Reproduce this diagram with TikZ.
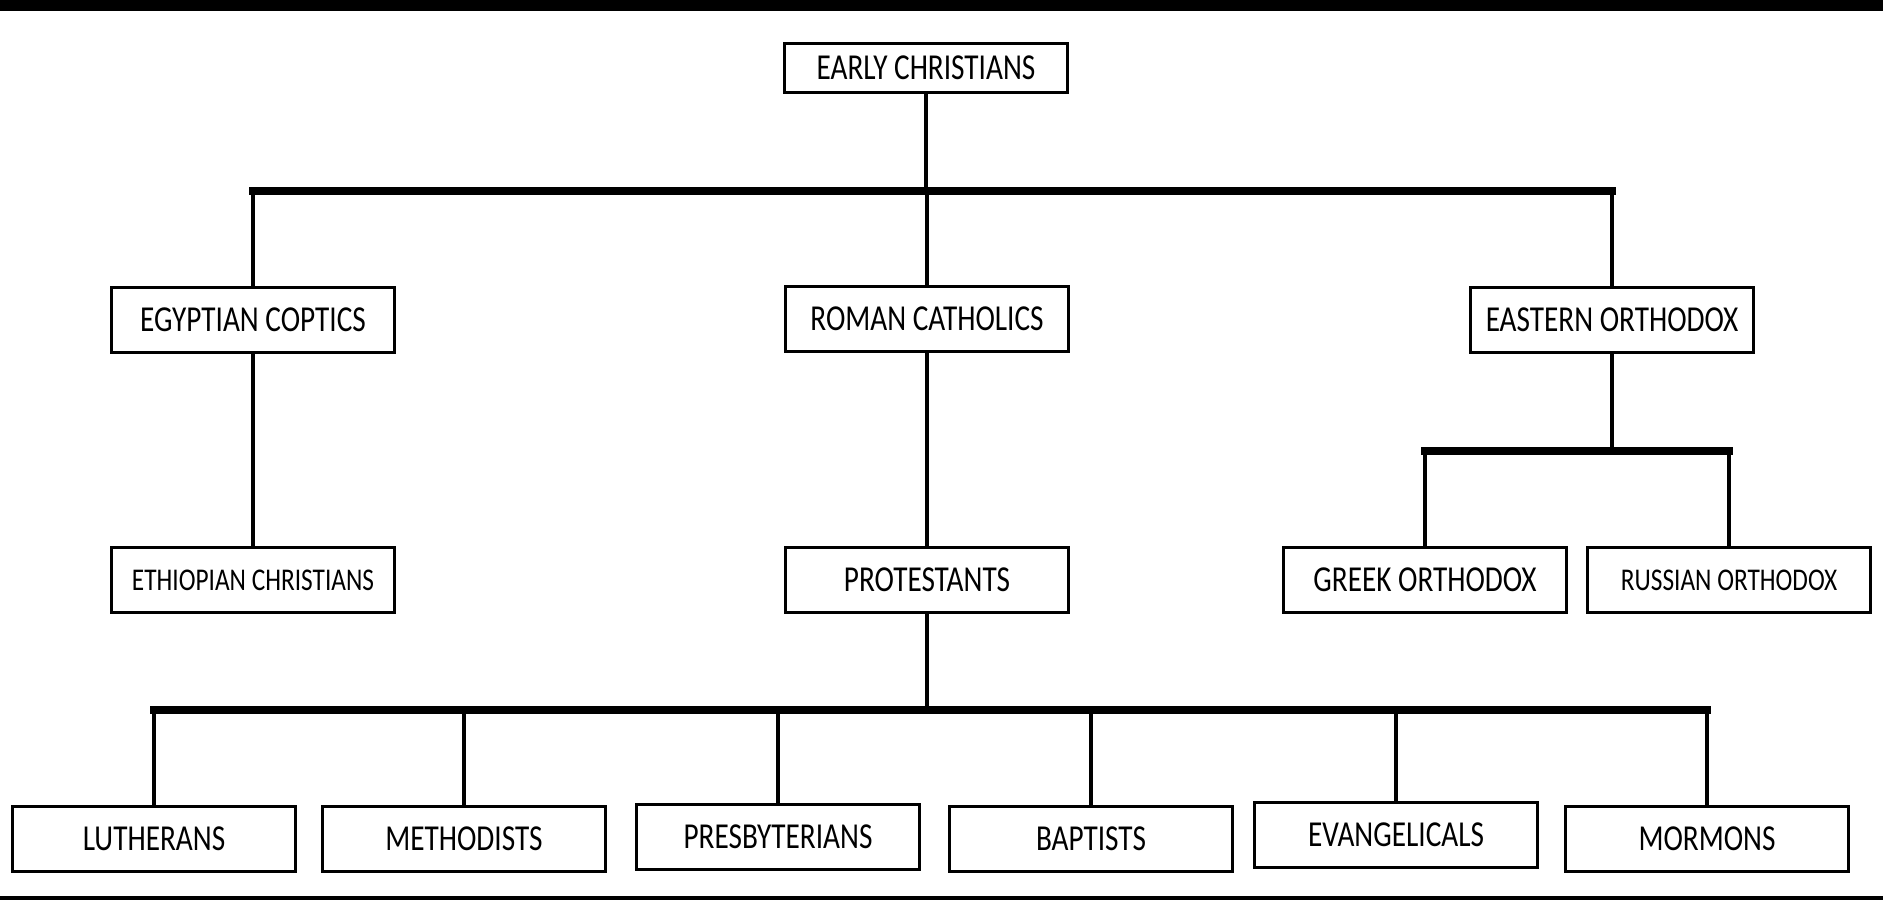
\documentclass[tikz,border=0pt]{standalone}
\usepackage{fontspec}
\setmainfont{Carlito}[FakeStretch=0.8]
\begin{document}
\begin{tikzpicture}[x=0.01cm,y=-0.01cm,
    box/.style={draw, rectangle, line width=0.8pt, fill=white, inner sep=0pt,
        minimum width=2.83cm, minimum height=0.65cm, font=\fontsize{10.4}{12}\selectfont},
    smallbox/.style={box, font=\fontsize{9}{11}\selectfont},
    stem/.style={line width=1.2pt},
    bus/.style={line width=2.2pt, line cap=rect}]
    \fill[white] (0,0) rectangle (1883,900);
    \useasboundingbox (0,0) rectangle (1883,900);
    \fill[black] (0,0) rectangle (1883,11);
    \fill[black] (0,896) rectangle (1883,900);

    \node[box, minimum height=0.49cm] (early) at (926,68) {EARLY CHRISTIANS};

    \node[box] (coptic) at (253,320) {EGYPTIAN COPTICS};
    \node[box] (roman) at (927,319) {ROMAN CATHOLICS};
    \node[box] (eastern) at (1612,320) {EASTERN ORTHODOX};

    \node[smallbox] (ethiop) at (253,580) {ETHIOPIAN CHRISTIANS};
    \node[box] (protest) at (927,580) {PROTESTANTS};
    \node[box] (greek) at (1425,580) {GREEK ORTHODOX};
    \node[smallbox] (russian) at (1729,580) {RUSSIAN ORTHODOX};

    \node[box] (luther) at (154,839) {LUTHERANS};
    \node[box] (method) at (464,839) {METHODISTS};
    \node[box] (presby) at (778,837) {PRESBYTERIANS};
    \node[box] (baptist) at (1091,839) {BAPTISTS};
    \node[box] (evang) at (1396,835) {EVANGELICALS};
    \node[box] (mormon) at (1707,839) {MORMONS};

    % bus levels
    \coordinate (busA) at (0,191);
    \coordinate (busB) at (0,451);
    \coordinate (busC) at (0,710);

    \draw[stem] (early) -- (early |- busA);
    \draw[bus] (coptic |- busA) -- (eastern |- busA);
    \foreach \n in {coptic,roman,eastern}
        \draw[stem] (\n |- busA) -- (\n);

    \draw[stem] (coptic) -- (ethiop);
    \draw[stem] (roman) -- (protest);

    \draw[stem] (eastern) -- (eastern |- busB);
    \draw[bus] (greek |- busB) -- (russian |- busB);
    \foreach \n in {greek,russian}
        \draw[stem] (\n |- busB) -- (\n);

    \draw[stem] (protest) -- (protest |- busC);
    \draw[bus] (luther |- busC) -- (mormon |- busC);
    \foreach \n in {luther,method,presby,baptist,evang,mormon}
        \draw[stem] (\n |- busC) -- (\n);
\end{tikzpicture}
\end{document}
